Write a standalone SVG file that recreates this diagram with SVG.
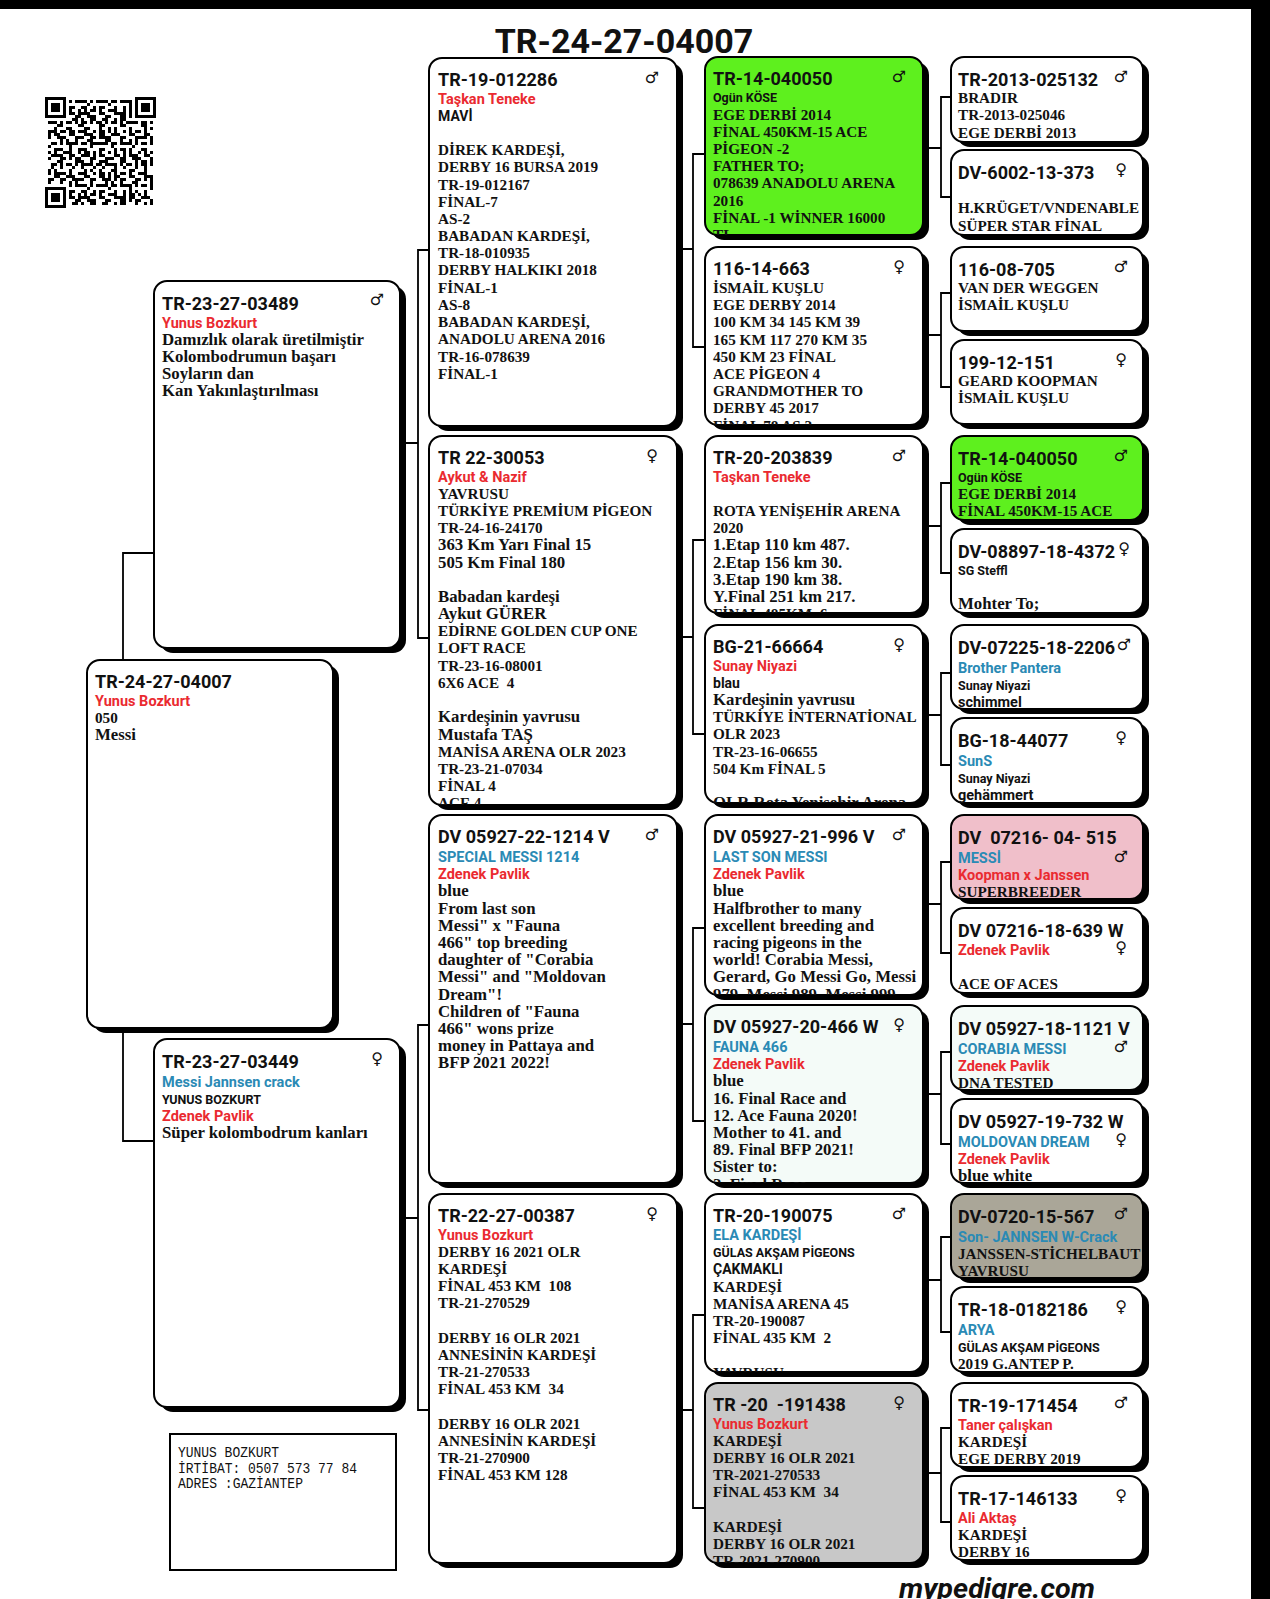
<svg xmlns="http://www.w3.org/2000/svg" width="1270" height="1599" viewBox="0 0 1270 1599">
<style>
.sh{fill:#000}
.bx{fill:#fff;stroke:#000;stroke-width:2}
.gn{fill:#5ef01e}.pk{fill:#f0bfca}.tp{fill:#aaa698}.gy{fill:#c8c8c8}.mt{fill:#f4fbf8}
.t{font-family:"Liberation Serif","Times New Roman",serif;font-weight:700;font-size:15.2px;fill:#111}
.l{font-size:16.8px}
.r{font-family:Roboto,"Liberation Sans",sans-serif;font-weight:700;font-size:18px;fill:#111}
.n{font-family:Roboto,"Liberation Sans",sans-serif;font-weight:700;font-size:14.5px;fill:#ea2a30}
.b{font-family:Roboto,"Liberation Sans",sans-serif;font-weight:700;font-size:14.5px;fill:#2a8ab5}
.s{font-family:Roboto,"Liberation Sans",sans-serif;font-weight:700;font-size:12.5px;fill:#111}
.sb{font-family:Roboto,"Liberation Sans",sans-serif;font-weight:700;font-size:12.5px;fill:#111}
.k{font-family:Roboto,"Liberation Sans",sans-serif;font-weight:700;font-size:14px;fill:#111}
.m{font-family:Roboto,"Liberation Sans",sans-serif;font-weight:700;font-size:14.5px;fill:#111}
.sx{font-family:"DejaVu Sans",sans-serif;font-size:16px;fill:#111;text-anchor:middle}
.cn{fill:none;stroke:#000;stroke-width:1.8}
.title{font-family:Roboto,"Liberation Sans",sans-serif;font-weight:700;font-size:34px;fill:#111}
.ct{font-family:"Liberation Mono",monospace;font-size:15px;fill:#111}
</style>
<defs>
<pattern id="qa" width="15" height="21" patternUnits="userSpaceOnUse"><path d="M0 0h3v6h-3zM6 3h6v3h-6zM3 12h3v3h-3zM9 9h3v9h-3zM0 18h6v3h-6zM12 15h3v3h-3z"/></pattern>
<pattern id="qb" width="21" height="12" patternUnits="userSpaceOnUse"><path d="M3 0h3v3h-3zM12 3h6v3h-6zM0 6h3v3h-3zM15 9h3v3h-3zM6 9h3v3h-3z"/></pattern>
</defs>
<rect width="1270" height="1599" fill="#fff"/>
<rect x="0" y="0" width="1270" height="9" fill="#000"/>
<rect x="1251" y="0" width="19" height="1599" fill="#000"/>
<text class="title" x="624" y="53" text-anchor="middle">TR-24-27-04007</text>
<g id="qr" transform="translate(45,97)">
<rect x="3" y="3" width="105" height="105" fill="url(#qa)"/>
<rect x="3" y="3" width="105" height="105" fill="url(#qb)"/>
<rect x="0" y="0" width="24" height="24" fill="#fff"/><rect x="0" y="0" width="21" height="21"/><rect x="3" y="3" width="15" height="15" fill="#fff"/><rect x="6" y="6" width="9" height="9"/>
<rect x="87" y="0" width="24" height="24" fill="#fff"/><rect x="90" y="0" width="21" height="21"/><rect x="93" y="3" width="15" height="15" fill="#fff"/><rect x="96" y="6" width="9" height="9"/>
<rect x="0" y="87" width="24" height="24" fill="#fff"/><rect x="0" y="90" width="21" height="21"/><rect x="3" y="93" width="15" height="15" fill="#fff"/><rect x="6" y="96" width="9" height="9"/>
</g>
<g id="connectors" class="cn">
<path d="M154 553H123V660M123 1028V1141H154"/>
<path d="M400 443H418M429 250H418V638H429M400 1218H418M429 1025H418V1410H429"/>
<path d="M677 249H693M705 154H693V347H705M677 637H693M705 540H693V734H705M677 1024H693M705 928H693V1121H705M677 1410H693M705 1315H693V1508H705"/>
<path d="M923 148H941M951 97H941V197H951M923 335H941M951 293H941V387H951M923 526H941M951 483H941V573H951M923 715H941M951 673H941V765H951M923 904H941M951 862H941V953H951M923 1094H941M951 1052H941V1144H951M923 1280H941M951 1237H941V1332H951M923 1473H941M951 1428H941V1522H951"/>
</g>

<!-- Gen 1 -->
<g id="n-tr-24-27-04007">
<rect class="sh" x="93" y="665" width="246" height="368" rx="13"/>
<rect class="bx" x="87" y="660" width="246" height="368" rx="13"/>
<svg x="87" y="660" width="246" height="368"><text class="t" x="8" y="28"><tspan class="r">TR-24-27-04007</tspan><tspan class="n" x="8" dy="18">Yunus Bozkurt</tspan><tspan x="8" dy="17.2">050</tspan><tspan class="l" x="8" dy="17.2">Messi</tspan></text></svg>
</g>

<!-- Gen 2 -->
<g id="n-tr-23-27-03489">
<rect class="sh" x="160" y="286" width="246" height="367" rx="13"/>
<rect class="bx" x="154" y="281" width="246" height="367" rx="13"/>
<svg x="154" y="281" width="246" height="367"><text class="t" x="8" y="29"><tspan class="r">TR-23-27-03489</tspan><tspan class="n" x="8" dy="17.5">Yunus Bozkurt</tspan><tspan class="l" x="8" dy="17.2">Damızlık olarak üretilmiştir</tspan><tspan class="l" x="8" dy="17.2">Kolombodrumun başarı</tspan><tspan class="l" x="8" dy="17.2">Soyların dan</tspan><tspan class="l" x="8" dy="17.2">Kan Yakınlaştırılması</tspan></text></svg>
<text class="sx" x="377" y="305">♂</text>
</g>
<g id="n-tr-23-27-03449">
<rect class="sh" x="160" y="1044" width="246" height="368" rx="13"/>
<rect class="bx" x="154" y="1039" width="246" height="368" rx="13"/>
<svg x="154" y="1039" width="246" height="368"><text class="t" x="8" y="29"><tspan class="r">TR-23-27-03449</tspan><tspan class="b" x="8" dy="19">Messi Jannsen crack</tspan><tspan class="s" x="8" dy="17">YUNUS BOZKURT</tspan><tspan class="n" x="8" dy="16.5">Zdenek Pavlik</tspan><tspan class="l" x="8" dy="17">Süper kolombodrum kanları</tspan></text></svg>
<text class="sx" x="377" y="1064">♀</text>
</g>

<!-- Gen 3 -->
<g id="n-tr-19-012286">
<rect class="sh" x="435" y="63" width="248" height="368" rx="13"/>
<rect class="bx" x="429" y="58" width="248" height="368" rx="13"/>
<svg x="429" y="58" width="248" height="368"><text class="t" x="9" y="28"><tspan class="r">TR-19-012286</tspan><tspan class="n" x="9" dy="17.5">Taşkan Teneke</tspan><tspan class="k" x="9" dy="17.2">MAVİ</tspan><tspan x="9" dy="34.4">DİREK KARDEŞİ,</tspan><tspan x="9" dy="17.2">DERBY 16 BURSA 2019</tspan><tspan x="9" dy="17.2">TR-19-012167</tspan><tspan x="9" dy="17.2">FİNAL-7</tspan><tspan x="9" dy="17.2">AS-2</tspan><tspan x="9" dy="17.2">BABADAN KARDEŞİ,</tspan><tspan x="9" dy="17.2">TR-18-010935</tspan><tspan x="9" dy="17.2">DERBY HALKIKI 2018</tspan><tspan x="9" dy="17.2">FİNAL-1</tspan><tspan x="9" dy="17.2">AS-8</tspan><tspan x="9" dy="17.2">BABADAN KARDEŞİ,</tspan><tspan x="9" dy="17.2">ANADOLU ARENA 2016</tspan><tspan x="9" dy="17.2">TR-16-078639</tspan><tspan x="9" dy="17.2">FİNAL-1</tspan></text></svg>
<text class="sx" x="652" y="83">♂</text>
</g>
<g id="n-tr-22-30053">
<rect class="sh" x="435" y="441" width="248" height="369" rx="13"/>
<rect class="bx" x="429" y="436" width="248" height="369" rx="13"/>
<svg x="429" y="436" width="248" height="369"><text class="t" x="9" y="28"><tspan class="r">TR 22-30053</tspan><tspan class="n" x="9" dy="17.5">Aykut &amp; Nazif</tspan><tspan x="9" dy="17.2">YAVRUSU</tspan><tspan x="9" dy="17.2">TÜRKİYE PREMİUM PİGEON</tspan><tspan x="9" dy="17.2">TR-24-16-24170</tspan><tspan class="l" x="9" dy="17.2">363 Km Yarı Final 15</tspan><tspan class="l" x="9" dy="17.2">505 Km Final 180</tspan><tspan class="l" x="9" dy="34.4">Babadan kardeşi</tspan><tspan class="l" x="9" dy="17.2">Aykut GÜRER</tspan><tspan x="9" dy="17.2">EDİRNE GOLDEN CUP ONE</tspan><tspan x="9" dy="17.2">LOFT RACE</tspan><tspan x="9" dy="17.2">TR-23-16-08001</tspan><tspan x="9" dy="17.2">6X6 ACE &#160;4</tspan><tspan class="l" x="9" dy="34.4">Kardeşinin yavrusu</tspan><tspan class="l" x="9" dy="17.2">Mustafa TAŞ</tspan><tspan x="9" dy="17.2">MANİSA ARENA OLR 2023</tspan><tspan x="9" dy="17.2">TR-23-21-07034</tspan><tspan x="9" dy="17.2">FİNAL 4</tspan><tspan x="9" dy="17.2">ACE 4</tspan></text></svg>
<text class="sx" x="652" y="461">♀</text>
</g>
<g id="n-dv-05927-22-1214">
<rect class="sh" x="435" y="820" width="248" height="368" rx="13"/>
<rect class="bx" x="429" y="815" width="248" height="368" rx="13"/>
<svg x="429" y="815" width="248" height="368"><text class="t l" x="9" y="28"><tspan class="r">DV 05927-22-1214 V</tspan><tspan class="b" x="9" dy="19">SPECIAL MESSI 1214</tspan><tspan class="n" x="9" dy="17.2">Zdenek Pavlik</tspan><tspan x="9" dy="17.2">blue</tspan><tspan x="9" dy="17.2">From last son</tspan><tspan x="9" dy="17.2">Messi" x "Fauna</tspan><tspan x="9" dy="17.2">466" top breeding</tspan><tspan x="9" dy="17.2">daughter of "Corabia</tspan><tspan x="9" dy="17.2">Messi" and "Moldovan</tspan><tspan x="9" dy="17.2">Dream"!</tspan><tspan x="9" dy="17.2">Children of "Fauna</tspan><tspan x="9" dy="17.2">466" wons prize</tspan><tspan x="9" dy="17.2">money in Pattaya and</tspan><tspan x="9" dy="17.2">BFP 2021 2022!</tspan></text></svg>
<text class="sx" x="652" y="840">♂</text>
</g>
<g id="n-tr-22-27-00387">
<rect class="sh" x="435" y="1199" width="248" height="369" rx="13"/>
<rect class="bx" x="429" y="1194" width="248" height="369" rx="13"/>
<svg x="429" y="1194" width="248" height="369"><text class="t" x="9" y="28"><tspan class="r">TR-22-27-00387</tspan><tspan class="n" x="9" dy="17.5">Yunus Bozkurt</tspan><tspan x="9" dy="17.2">DERBY 16 2021 OLR</tspan><tspan x="9" dy="17.2">KARDEŞİ</tspan><tspan x="9" dy="17.2">FİNAL 453 KM &#160;108</tspan><tspan x="9" dy="17.2">TR-21-270529</tspan><tspan x="9" dy="34.4">DERBY 16 OLR 2021</tspan><tspan x="9" dy="17.2">ANNESİNİN KARDEŞİ</tspan><tspan x="9" dy="17.2">TR-21-270533</tspan><tspan x="9" dy="17.2">FİNAL 453 KM &#160;34</tspan><tspan x="9" dy="34.4">DERBY 16 OLR 2021</tspan><tspan x="9" dy="17.2">ANNESİNİN KARDEŞİ</tspan><tspan x="9" dy="17.2">TR-21-270900</tspan><tspan x="9" dy="17.2">FİNAL 453 KM 128</tspan></text></svg>
<text class="sx" x="652" y="1219">♀</text>
</g>

<!-- Gen 4 -->
<g id="n-tr-14-040050-a">
<rect class="sh" x="711" y="62" width="218" height="178" rx="13"/>
<rect class="bx gn" x="705" y="57" width="218" height="178" rx="13"/>
<svg x="705" y="57" width="218" height="178"><text class="t" x="8" y="28"><tspan class="r">TR-14-040050</tspan><tspan class="sb" x="8" dy="17">Ogün KÖSE</tspan><tspan x="8" dy="17.5">EGE DERBİ 2014</tspan><tspan x="8" dy="17.2">FİNAL 450KM-15 ACE</tspan><tspan x="8" dy="17.2">PİGEON -2</tspan><tspan x="8" dy="17.2">FATHER TO;</tspan><tspan x="8" dy="17.2">078639 ANADOLU ARENA</tspan><tspan x="8" dy="17.2">2016</tspan><tspan x="8" dy="17.2">FİNAL -1 WİNNER 16000</tspan><tspan x="8" dy="17.2">TL</tspan></text></svg>
<text class="sx" x="899" y="82">♂</text>
</g>
<g id="n-116-14-663">
<rect class="sh" x="711" y="252" width="218" height="178" rx="13"/>
<rect class="bx" x="705" y="247" width="218" height="178" rx="13"/>
<svg x="705" y="247" width="218" height="178"><text class="t" x="8" y="28"><tspan class="r">116-14-663</tspan><tspan x="8" dy="18">İSMAİL KUŞLU</tspan><tspan x="8" dy="17.2">EGE DERBY 2014</tspan><tspan x="8" dy="17.2">100 KM 34 145 KM 39</tspan><tspan x="8" dy="17.2">165 KM 117 270 KM 35</tspan><tspan x="8" dy="17.2">450 KM 23 FİNAL</tspan><tspan x="8" dy="17.2">ACE PİGEON 4</tspan><tspan x="8" dy="17.2">GRANDMOTHER TO</tspan><tspan x="8" dy="17.2">DERBY 45 2017</tspan><tspan x="8" dy="17.2">FİNAL 78 AS 2</tspan></text></svg>
<text class="sx" x="899" y="272">♀</text>
</g>
<g id="n-tr-20-203839">
<rect class="sh" x="711" y="441" width="218" height="177" rx="13"/>
<rect class="bx" x="705" y="436" width="218" height="177" rx="13"/>
<svg x="705" y="436" width="218" height="177"><text class="t" x="8" y="28"><tspan class="r">TR-20-203839</tspan><tspan class="n" x="8" dy="17.5">Taşkan Teneke</tspan><tspan x="8" dy="34.4">ROTA YENİŞEHİR ARENA</tspan><tspan x="8" dy="17.2">2020</tspan><tspan class="l" x="8" dy="17.2">1.Etap 110 km 487.</tspan><tspan class="l" x="8" dy="17.2">2.Etap 156 km 30.</tspan><tspan class="l" x="8" dy="17.2">3.Etap 190 km 38.</tspan><tspan class="l" x="8" dy="17.2">Y.Final 251 km 217.</tspan><tspan x="8" dy="17.2">FİNAL 485KM &#160;6</tspan></text></svg>
<text class="sx" x="899" y="461">♂</text>
</g>
<g id="n-bg-21-66664">
<rect class="sh" x="711" y="630" width="218" height="178" rx="13"/>
<rect class="bx" x="705" y="625" width="218" height="178" rx="13"/>
<svg x="705" y="625" width="218" height="178"><text class="t" x="8" y="28"><tspan class="r">BG-21-66664</tspan><tspan class="n" x="8" dy="17.5">Sunay Niyazi</tspan><tspan class="k" x="8" dy="17.2">blau</tspan><tspan class="l" x="8" dy="17.2">Kardeşinin yavrusu</tspan><tspan x="8" dy="17.2">TÜRKİYE İNTERNATİONAL</tspan><tspan x="8" dy="17.2">OLR 2023</tspan><tspan x="8" dy="17.2">TR-23-16-06655</tspan><tspan x="8" dy="17.2">504 Km FİNAL 5</tspan><tspan class="l" x="8" dy="34.4">OLR Rota Yenişehir Arena</tspan></text></svg>
<text class="sx" x="899" y="650">♀</text>
</g>
<g id="n-dv-05927-21-996">
<rect class="sh" x="711" y="820" width="218" height="180" rx="13"/>
<rect class="bx" x="705" y="815" width="218" height="180" rx="13"/>
<svg x="705" y="815" width="218" height="180"><text class="t l" x="8" y="28"><tspan class="r">DV 05927-21-996 V</tspan><tspan class="b" x="8" dy="19">LAST SON MESSI</tspan><tspan class="n" x="8" dy="17.2">Zdenek Pavlik</tspan><tspan x="8" dy="17.2">blue</tspan><tspan x="8" dy="17.2">Halfbrother to many</tspan><tspan x="8" dy="17.2">excellent breeding and</tspan><tspan x="8" dy="17.2">racing pigeons in the</tspan><tspan x="8" dy="17.2">world! Corabia Messi,</tspan><tspan x="8" dy="17.2">Gerard, Go Messi Go, Messi</tspan><tspan x="8" dy="17.2">979, Messi 989, Messi 999</tspan></text></svg>
<text class="sx" x="899" y="840">♂</text>
</g>
<g id="n-dv-05927-20-466">
<rect class="sh" x="711" y="1010" width="218" height="178" rx="13"/>
<rect class="bx mt" x="705" y="1005" width="218" height="178" rx="13"/>
<svg x="705" y="1005" width="218" height="178"><text class="t l" x="8" y="28"><tspan class="r">DV 05927-20-466 W</tspan><tspan class="b" x="8" dy="19">FAUNA 466</tspan><tspan class="n" x="8" dy="17.2">Zdenek Pavlik</tspan><tspan x="8" dy="17.2">blue</tspan><tspan x="8" dy="17.2">16. Final Race and</tspan><tspan x="8" dy="17.2">12. Ace Fauna 2020!</tspan><tspan x="8" dy="17.2">Mother to 41. and</tspan><tspan x="8" dy="17.2">89. Final BFP 2021!</tspan><tspan x="8" dy="17.2">Sister to:</tspan><tspan x="8" dy="17.2">2. Final Race</tspan></text></svg>
<text class="sx" x="899" y="1030">♀</text>
</g>
<g id="n-tr-20-190075">
<rect class="sh" x="711" y="1199" width="218" height="178" rx="13"/>
<rect class="bx" x="705" y="1194" width="218" height="178" rx="13"/>
<svg x="705" y="1194" width="218" height="178"><text class="t" x="8" y="28"><tspan class="r">TR-20-190075</tspan><tspan class="b" x="8" dy="18">ELA KARDEŞİ</tspan><tspan class="s" x="8" dy="17.2">GÜLAS AKŞAM PİGEONS</tspan><tspan class="k" x="8" dy="17.2">ÇAKMAKLI</tspan><tspan x="8" dy="17.2">KARDEŞİ</tspan><tspan x="8" dy="17.2">MANİSA ARENA 45</tspan><tspan x="8" dy="17.2">TR-20-190087</tspan><tspan x="8" dy="17.2">FİNAL 435 KM &#160;2</tspan><tspan x="8" dy="34.4">YAVRUSU</tspan></text></svg>
<text class="sx" x="899" y="1219">♂</text>
</g>
<g id="n-tr-20-191438">
<rect class="sh" x="711" y="1388" width="218" height="180" rx="13"/>
<rect class="bx gy" x="705" y="1383" width="218" height="180" rx="13"/>
<svg x="705" y="1383" width="218" height="180"><text class="t" x="8" y="28"><tspan class="r">TR -20 &#160;-191438</tspan><tspan class="n" x="8" dy="17.5">Yunus Bozkurt</tspan><tspan x="8" dy="17.2">KARDEŞİ</tspan><tspan x="8" dy="17.2">DERBY 16 OLR 2021</tspan><tspan x="8" dy="17.2">TR-2021-270533</tspan><tspan x="8" dy="17.2">FİNAL 453 KM &#160;34</tspan><tspan x="8" dy="34.4">KARDEŞİ</tspan><tspan x="8" dy="17.2">DERBY 16 OLR 2021</tspan><tspan x="8" dy="17.2">TR-2021-270900</tspan></text></svg>
<text class="sx" x="899" y="1408">♀</text>
</g>

<!-- Gen 5 -->
<g id="n-tr-2013-025132">
<rect class="sh" x="957" y="62" width="192" height="85" rx="13"/>
<rect class="bx" x="951" y="57" width="192" height="85" rx="13"/>
<svg x="951" y="57" width="192" height="85"><text class="t" x="7" y="29"><tspan class="r">TR-2013-025132</tspan><tspan x="7" dy="17.2">BRADIR</tspan><tspan x="7" dy="17.2">TR-2013-025046</tspan><tspan x="7" dy="17.2">EGE DERBİ 2013</tspan></text></svg>
<text class="sx" x="1121" y="82">♂</text>
</g>
<g id="n-dv-6002-13-373">
<rect class="sh" x="957" y="155" width="192" height="85" rx="13"/>
<rect class="bx" x="951" y="150" width="192" height="85" rx="13"/>
<svg x="951" y="150" width="192" height="85"><text class="t" x="7" y="29"><tspan class="r">DV-6002-13-373</tspan><tspan x="7" dy="34.4">H.KRÜGET/VNDENABLE</tspan><tspan x="7" dy="17.2">SÜPER STAR FİNAL</tspan></text></svg>
<text class="sx" x="1121" y="175">♀</text>
</g>
<g id="n-116-08-705">
<rect class="sh" x="957" y="252" width="192" height="84" rx="13"/>
<rect class="bx" x="951" y="247" width="192" height="84" rx="13"/>
<svg x="951" y="247" width="192" height="84"><text class="t" x="7" y="29"><tspan class="r">116-08-705</tspan><tspan x="7" dy="17.2">VAN DER WEGGEN</tspan><tspan x="7" dy="17.2">İSMAİL KUŞLU</tspan></text></svg>
<text class="sx" x="1121" y="272">♂</text>
</g>
<g id="n-199-12-151">
<rect class="sh" x="957" y="345" width="192" height="84" rx="13"/>
<rect class="bx" x="951" y="340" width="192" height="84" rx="13"/>
<svg x="951" y="340" width="192" height="84"><text class="t" x="7" y="29"><tspan class="r">199-12-151</tspan><tspan x="7" dy="17.2">GEARD KOOPMAN</tspan><tspan x="7" dy="17.2">İSMAİL KUŞLU</tspan></text></svg>
<text class="sx" x="1121" y="365">♀</text>
</g>
<g id="n-tr-14-040050-b">
<rect class="sh" x="957" y="441" width="192" height="84" rx="13"/>
<rect class="bx gn" x="951" y="436" width="192" height="84" rx="13"/>
<svg x="951" y="436" width="192" height="84"><text class="t" x="7" y="29"><tspan class="r">TR-14-040050</tspan><tspan class="sb" x="7" dy="17">Ogün KÖSE</tspan><tspan x="7" dy="17.2">EGE DERBİ 2014</tspan><tspan x="7" dy="17.2">FİNAL 450KM-15 ACE</tspan></text></svg>
<text class="sx" x="1121" y="461">♂</text>
</g>
<g id="n-dv-08897-18-4372">
<rect class="sh" x="957" y="534" width="192" height="84" rx="13"/>
<rect class="bx" x="951" y="529" width="192" height="84" rx="13"/>
<svg x="951" y="529" width="192" height="84"><text class="t" x="7" y="29"><tspan class="r">DV-08897-18-4372</tspan><tspan class="sb" x="7" dy="17">SG Steffl</tspan><tspan class="l" x="7" dy="34.4">Mohter To;</tspan></text></svg>
<text class="sx" x="1124" y="554">♀</text>
</g>
<g id="n-dv-07225-18-2206">
<rect class="sh" x="957" y="630" width="192" height="84" rx="13"/>
<rect class="bx" x="951" y="625" width="192" height="84" rx="13"/>
<svg x="951" y="625" width="192" height="84"><text class="t" x="7" y="29"><tspan class="r">DV-07225-18-2206</tspan><tspan class="b" x="7" dy="19">Brother Pantera</tspan><tspan class="s" x="7" dy="17">Sunay Niyazi</tspan><tspan class="m" x="7" dy="17">schimmel</tspan></text></svg>
<text class="sx" x="1124" y="650">♂</text>
</g>
<g id="n-bg-18-44077">
<rect class="sh" x="957" y="723" width="192" height="85" rx="13"/>
<rect class="bx" x="951" y="718" width="192" height="85" rx="13"/>
<svg x="951" y="718" width="192" height="85"><text class="t" x="7" y="29"><tspan class="r">BG-18-44077</tspan><tspan class="b" x="7" dy="19">SunS</tspan><tspan class="s" x="7" dy="17">Sunay Niyazi</tspan><tspan class="m" x="7" dy="17">gehämmert</tspan></text></svg>
<text class="sx" x="1121" y="743">♀</text>
</g>
<g id="n-dv-07216-04-515">
<rect class="sh" x="957" y="820" width="192" height="84" rx="13"/>
<rect class="bx pk" x="951" y="815" width="192" height="84" rx="13"/>
<svg x="951" y="815" width="192" height="84"><text class="t" x="7" y="29"><tspan class="r">DV &#160;07216- 04- 515</tspan><tspan class="b" x="7" dy="19">MESSİ</tspan><tspan class="n" x="7" dy="17">Koopman x Janssen</tspan><tspan x="7" dy="17">SUPERBREEDER</tspan></text></svg>
<text class="sx" x="1121" y="862">♂</text>
</g>
<g id="n-dv-07216-18-639">
<rect class="sh" x="957" y="913" width="192" height="85" rx="13"/>
<rect class="bx" x="951" y="908" width="192" height="85" rx="13"/>
<svg x="951" y="908" width="192" height="85"><text class="t" x="7" y="29"><tspan class="r">DV 07216-18-639 W</tspan><tspan class="n" x="7" dy="18">Zdenek Pavlik</tspan><tspan x="7" dy="34.4">ACE OF ACES</tspan></text></svg>
<text class="sx" x="1121" y="953">♀</text>
</g>
<g id="n-dv-05927-18-1121">
<rect class="sh" x="957" y="1011" width="192" height="84" rx="13"/>
<rect class="bx mt" x="951" y="1006" width="192" height="84" rx="13"/>
<svg x="951" y="1006" width="192" height="84"><text class="t" x="7" y="29"><tspan class="r">DV 05927-18-1121 V</tspan><tspan class="b" x="7" dy="19">CORABIA MESSI</tspan><tspan class="n" x="7" dy="17">Zdenek Pavlik</tspan><tspan x="7" dy="17">DNA TESTED</tspan></text></svg>
<text class="sx" x="1121" y="1052">♂</text>
</g>
<g id="n-dv-05927-19-732">
<rect class="sh" x="957" y="1104" width="192" height="84" rx="13"/>
<rect class="bx" x="951" y="1099" width="192" height="84" rx="13"/>
<svg x="951" y="1099" width="192" height="84"><text class="t" x="7" y="29"><tspan class="r">DV 05927-19-732 W</tspan><tspan class="b" x="7" dy="19">MOLDOVAN DREAM</tspan><tspan class="n" x="7" dy="17">Zdenek Pavlik</tspan><tspan class="l" x="7" dy="17">blue white</tspan></text></svg>
<text class="sx" x="1121" y="1145">♀</text>
</g>
<g id="n-dv-0720-15-567">
<rect class="sh" x="957" y="1199" width="192" height="84" rx="13"/>
<rect class="bx tp" x="951" y="1194" width="192" height="84" rx="13"/>
<svg x="951" y="1194" width="192" height="84"><text class="t" x="7" y="29"><tspan class="r">DV-0720-15-567</tspan><tspan class="b" x="7" dy="19">Son- JANNSEN W-Crack</tspan><tspan x="7" dy="17">JANSSEN-STİCHELBAUT</tspan><tspan x="7" dy="17">YAVRUSU</tspan></text></svg>
<text class="sx" x="1121" y="1219">♂</text>
</g>
<g id="n-tr-18-0182186">
<rect class="sh" x="957" y="1292" width="192" height="85" rx="13"/>
<rect class="bx" x="951" y="1287" width="192" height="85" rx="13"/>
<svg x="951" y="1287" width="192" height="85"><text class="t" x="7" y="29"><tspan class="r">TR-18-0182186</tspan><tspan class="b" x="7" dy="19">ARYA</tspan><tspan class="s" x="7" dy="17">GÜLAS AKŞAM PİGEONS</tspan><tspan x="7" dy="17">2019 G.ANTEP P.</tspan></text></svg>
<text class="sx" x="1121" y="1312">♀</text>
</g>
<g id="n-tr-19-171454">
<rect class="sh" x="957" y="1388" width="192" height="84" rx="13"/>
<rect class="bx" x="951" y="1383" width="192" height="84" rx="13"/>
<svg x="951" y="1383" width="192" height="84"><text class="t" x="7" y="29"><tspan class="r">TR-19-171454</tspan><tspan class="n" x="7" dy="18">Taner çalışkan</tspan><tspan x="7" dy="17.2">KARDEŞİ</tspan><tspan x="7" dy="17.2">EGE DERBY 2019</tspan></text></svg>
<text class="sx" x="1121" y="1408">♂</text>
</g>
<g id="n-tr-17-146133">
<rect class="sh" x="957" y="1481" width="192" height="84" rx="13"/>
<rect class="bx" x="951" y="1476" width="192" height="84" rx="13"/>
<svg x="951" y="1476" width="192" height="84"><text class="t" x="7" y="29"><tspan class="r">TR-17-146133</tspan><tspan class="n" x="7" dy="18">Ali Aktaş</tspan><tspan x="7" dy="17.2">KARDEŞİ</tspan><tspan x="7" dy="17.2">DERBY 16</tspan></text></svg>
<text class="sx" x="1121" y="1501">♀</text>
</g>

<g id="contact">
<rect x="170" y="1434" width="226" height="136" fill="#fff" stroke="#000" stroke-width="2"/>
<text class="ct" x="178" y="1457" textLength="101" lengthAdjust="spacingAndGlyphs">YUNUS BOZKURT</text>
<text class="ct" x="178" y="1473" textLength="179" lengthAdjust="spacingAndGlyphs">İRTİBAT: 0507 573 77 84</text>
<text class="ct" x="178" y="1488" textLength="125" lengthAdjust="spacingAndGlyphs">ADRES :GAZİANTEP</text>
</g>
<text x="899" y="1598" font-family="Roboto, 'Liberation Sans', sans-serif" font-weight="700" font-style="italic" font-size="27" fill="#111" textLength="196" lengthAdjust="spacingAndGlyphs">mypedigre.com</text>
</svg>
